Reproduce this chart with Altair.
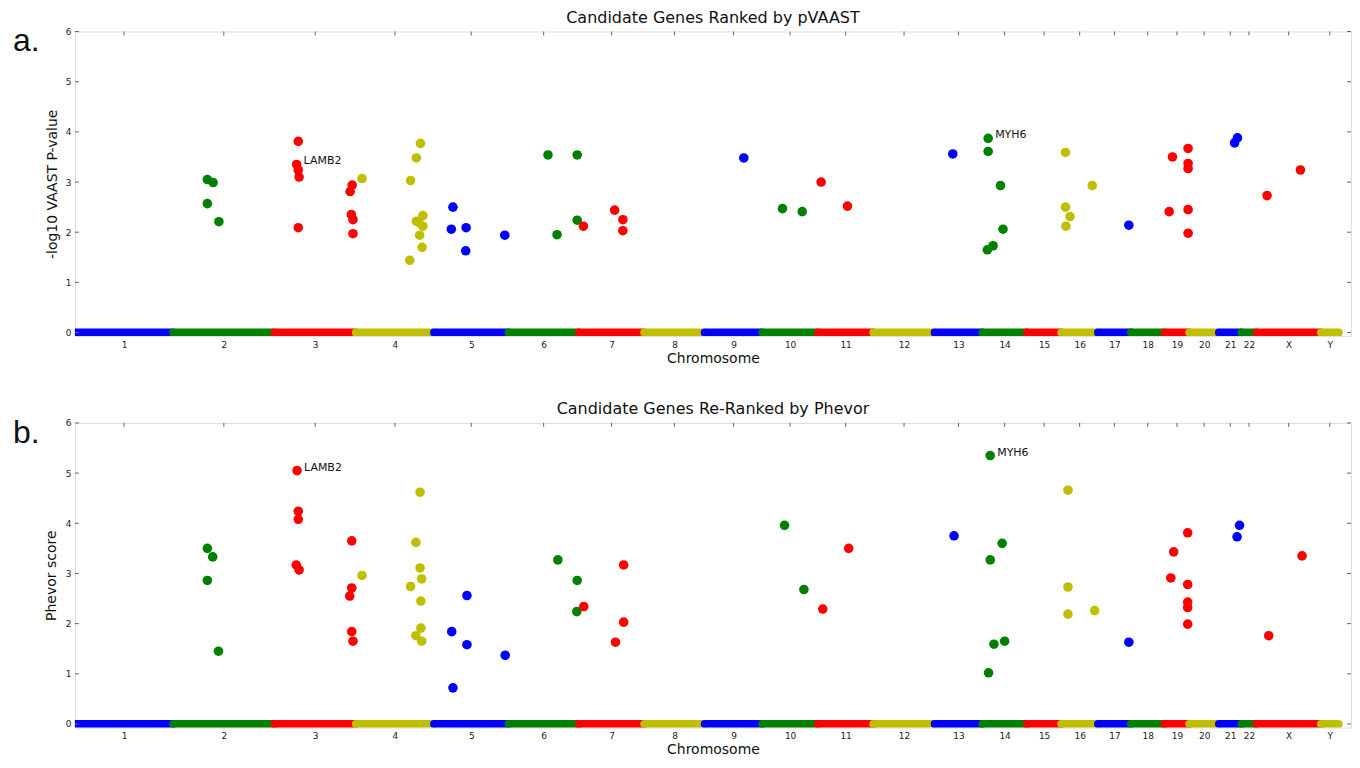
import json
import altair as alt
import pandas as pd

# ---------------- data ----------------
chrom_names = ["1", "2", "3", "4", "5", "6", "7", "8", "9", "10", "11", "12",
               "13", "14", "15", "16", "17", "18", "19", "20", "21", "22", "X", "Y"]
chrom_len_mb = [239, 246, 198, 190, 181, 171, 159, 147, 140, 135, 135, 149,
                116, 108, 84, 89, 80, 82, 60, 72, 55, 36, 157, 43]
band_colors = ["#0000ff", "#008000", "#ff0000", "#bfbf00"]
genome_end_mb = 3102
y_ticks = [0, 1, 2, 3, 4, 5, 6]

# panel a: pVAAST
top_chrom = ["2", "2", "2", "2",
             "3", "3", "3", "3", "3", "3", "3", "3", "3", "3",
             "4", "4", "4", "4", "4", "4", "4", "4", "4", "4", "4",
             "5", "5", "5", "5", "5",
             "6", "6", "6", "6",
             "7", "7", "7", "7",
             "9", "10", "10", "11", "11", "13",
             "14", "14", "14", "14", "14", "14",
             "16", "16", "16", "16", "16", "17",
             "19", "19", "19", "19", "19", "19", "19",
             "21", "21", "X", "X"]
top_pos = [322, 336, 322, 350,
           543, 539, 543, 545, 543, 674, 669, 672, 676, 676,
           698, 840, 830, 816, 846, 830, 846, 836, 838, 844, 814,
           919, 915, 951, 950, 1045,
           1150, 1221, 1221, 1172,
           1236, 1312, 1332, 1332,
           1626, 1720, 1768, 1814, 1878, 2134,
           2220, 2220, 2250, 2256, 2232, 2218,
           2408, 2408, 2419, 2409, 2473, 2562,
           2668, 2660, 2706, 2706, 2706, 2706, 2706,
           2819, 2826, 2898, 2979]
top_val = [3.05, 2.99, 2.57, 2.21,
           3.81, 3.35, 3.24, 3.10, 2.09, 2.94, 2.81, 2.35, 2.25, 1.97,
           3.07, 3.77, 3.48, 3.03, 2.33, 2.22, 2.12, 2.19, 1.94, 1.70, 1.44,
           2.50, 2.06, 2.09, 1.63, 1.94,
           3.54, 3.54, 2.24, 1.95,
           2.12, 2.44, 2.25, 2.03,
           3.48, 2.47, 2.41, 3.00, 2.52, 3.56,
           3.87, 3.61, 2.93, 2.06, 1.73, 1.65,
           3.59, 2.50, 2.31, 2.12, 2.93, 2.14,
           3.50, 2.41, 3.67, 3.37, 3.27, 2.45, 1.98,
           3.78, 3.88, 2.73, 3.24]
top_label_gene = ["LAMB2", "MYH6"]
top_label_pos = [539, 2220]
top_label_val = [3.35, 3.87]

# panel b: Phevor
bot_chrom = ["2", "2", "2", "2",
             "3", "3", "3", "3", "3", "3", "3", "3", "3", "3",
             "4", "4", "4", "4", "4", "4", "4", "4", "4", "4",
             "5", "5", "5", "5", "5",
             "6", "6", "6",
             "7", "7", "7", "7",
             "10", "10", "11", "11", "13",
             "14", "14", "14", "14", "14", "14",
             "16", "16", "16", "16", "17",
             "19", "19", "19", "19", "19", "19", "19",
             "21", "21", "X", "X"]
bot_pos = [322, 335, 322, 349,
           540, 543, 543, 538, 545, 673, 673, 668, 673, 676,
           698, 839, 829, 839, 843, 816, 841, 841, 829, 843,
           916, 919, 953, 953, 1046,
           1174, 1221, 1220,
           1237, 1334, 1334, 1314,
           1725, 1772, 1881, 1818, 2137,
           2225, 2225, 2254, 2234, 2260, 2221,
           2414, 2414, 2414, 2479, 2562,
           2705, 2671, 2664, 2705, 2705, 2705, 2705,
           2831, 2825, 2983, 2902]
bot_val = [3.50, 3.33, 2.86, 1.45,
           5.05, 4.24, 4.08, 3.17, 3.07, 3.65, 2.71, 2.55, 1.84, 1.65,
           2.96, 4.62, 3.62, 3.11, 2.89, 2.74, 2.45, 1.91, 1.76, 1.65,
           1.84, 0.72, 2.56, 1.58, 1.37,
           3.27, 2.86, 2.24,
           2.34, 3.17, 2.03, 1.63,
           3.96, 2.68, 3.50, 2.29, 3.75,
           5.35, 3.27, 3.60, 1.59, 1.65, 1.02,
           4.66, 2.73, 2.19, 2.26, 1.63,
           3.81, 3.43, 2.91, 2.78, 2.43, 2.32, 1.99,
           3.96, 3.73, 3.35, 1.76]
bot_label_gene = ["LAMB2", "MYH6"]
bot_label_pos = [540, 2225]
bot_label_val = [5.05, 5.35]

# ---------------- derived tables ----------------
starts = []
acc = 0
for L in chrom_len_mb:
    starts.append(acc)
    acc += L
mids = [s + L / 2 for s, L in zip(starts, chrom_len_mb)]
band_df = pd.DataFrame({
    "chrom": chrom_names,
    "start": starts,
    "end": [s + L for s, L in zip(starts, chrom_len_mb)],
    "mid": mids,
    "color": [band_colors[i % 4] for i in range(len(chrom_names))],
})
color_of = {c: band_colors[i % 4] for i, c in enumerate(chrom_names)}
ytick_df = pd.DataFrame({"v": y_ticks})

FONT = "DejaVu Sans"
W, H = 1278, 305

label_expr = "{}[indexof({}, datum.value)]".format(
    json.dumps(chrom_names), json.dumps(mids))

xscale = alt.Scale(domain=[0, genome_end_mb], nice=False, zero=False)
yscale = alt.Scale(domain=[-0.07, 6], nice=False, zero=False)


def panel(chrom, pos, val, lab_gene, lab_pos, lab_val, title, ytitle, letter, ytp):
    xaxis = alt.Axis(values=mids, labelExpr=label_expr, ticks=False, domain=False,
                     grid=False, labelFontSize=9, labelFont=FONT, labelColor="#222",
                     labelPadding=4, title="Chromosome", titleFont=FONT,
                     titleFontSize=14, titleFontWeight="normal", titleColor="#111",
                     titlePadding=2)
    yaxis = alt.Axis(values=y_ticks, format="d", ticks=False, domain=False, grid=False,
                     labelFontSize=9, labelFont=FONT, labelColor="#222", labelPadding=4,
                     title=ytitle, titleFont=FONT, titleFontSize=14,
                     titleFontWeight="normal", titleColor="#111", titlePadding=ytp)

    pts = pd.DataFrame({"pos": pos, "val": val,
                        "color": [color_of[c] for c in chrom]})
    lab = pd.DataFrame({"pos": lab_pos, "val": lab_val, "gene": lab_gene})

    points = alt.Chart(pts).mark_circle(size=92, opacity=1).encode(
        x=alt.X("pos:Q", scale=xscale, axis=xaxis),
        y=alt.Y("val:Q", scale=yscale, axis=yaxis),
        color=alt.Color("color:N", scale=None),
    )
    band = alt.Chart(band_df).mark_rule(strokeWidth=8, strokeCap="round", clip=True).encode(
        x=alt.X("start:Q", scale=xscale, axis=xaxis),
        x2="end:Q",
        y=alt.datum(0),
        color=alt.Color("color:N", scale=None),
    )
    top_ticks = alt.Chart(band_df).mark_rule(color="#666", strokeWidth=1).encode(
        x=alt.X("mid:Q", scale=xscale, axis=xaxis),
        y=alt.value(0), y2=alt.value(4),
    )
    left_ticks = alt.Chart(ytick_df).mark_rule(color="#666", strokeWidth=1).encode(
        y=alt.Y("v:Q", scale=yscale, axis=yaxis),
        x=alt.value(0), x2=alt.value(4),
    )
    right_ticks = alt.Chart(ytick_df).mark_rule(color="#666", strokeWidth=1).encode(
        y=alt.Y("v:Q", scale=yscale, axis=yaxis),
        x=alt.value(W - 4), x2=alt.value(W),
    )
    labels = alt.Chart(lab).mark_text(align="left", baseline="middle", dx=7, dy=-3,
                                      font=FONT, fontSize=11, color="#111").encode(
        x=alt.X("pos:Q", scale=xscale, axis=xaxis),
        y=alt.Y("val:Q", scale=yscale, axis=yaxis),
        text="gene:N",
    )
    letter_mark = alt.Chart(pd.DataFrame({"t": [letter]})).mark_text(
        align="left", baseline="middle", font="Liberation Sans", fontSize=32,
        color="#111").encode(x=alt.value(-62), y=alt.value(10), text="t:N")

    return alt.layer(points, band, top_ticks, left_ticks, right_ticks, labels,
                     letter_mark).properties(
        width=W, height=H,
        title=alt.TitleParams(title, font=FONT, fontSize=16, fontWeight="normal",
                              color="#111", anchor="middle", offset=0),
    )


top = panel(top_chrom, top_pos, top_val, top_label_gene, top_label_pos, top_label_val,
            "Candidate Genes Ranked by pVAAST", "-log10 VAAST  P-value", "a.", 6)
bot = panel(bot_chrom, bot_pos, bot_val, bot_label_gene, bot_label_pos, bot_label_val,
            "Candidate Genes Re-Ranked by Phevor", "Phevor score", "b.", 7)

chart = alt.vconcat(top, bot, spacing=34).properties(
    padding={"left": 4, "top": 0, "right": 0, "bottom": 0}
).configure_view(stroke="#777", strokeWidth=1.5).configure(background="white")

chart.save("out.html", embed_options={"renderer": "svg", "actions": False})
